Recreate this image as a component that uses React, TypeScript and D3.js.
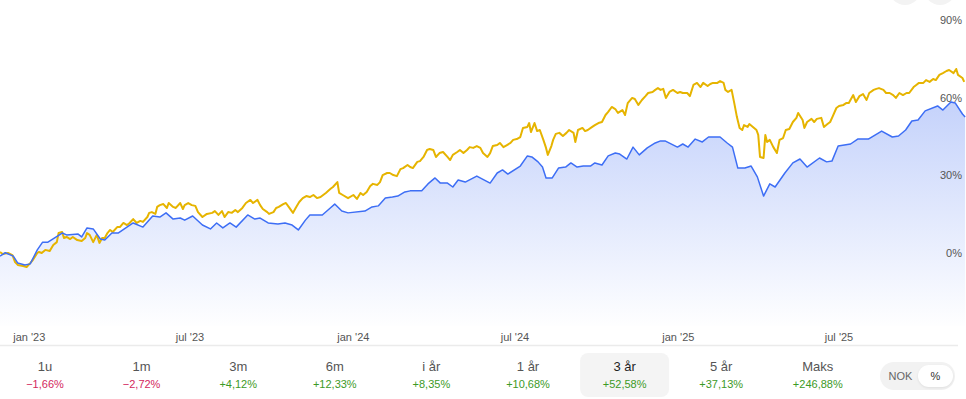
import React from 'react';
import * as d3 from 'd3';

const W = 966;
const H = 399;
const START = new Date(2022, 10, 29);
const END = new Date(2025, 10, 21);

// [days since START, return in %]
const fundSeries: [number, number][] = [
  [0,0.4],[3,-0.4],[9,0],[14,-0.8],[17,-3.5],[20,-4.6],[26,-5.0],[30,-5.4],[34,-3.9],[37,-2.7],
  [42,0],[44,0.4],[47,0],[51,1.2],[56,0.8],[60,3.1],[64,4.2],[66,7.7],[70,8.1],[72,5.8],
  [75,6.2],[79,5.4],[82,6.2],[87,5.0],[92,4.6],[96,5.8],[98,7.7],[101,7.0],[105,4.2],[109,7.0],
  [112,3.9],[115,5.8],[118,5.8],[121,7.7],[124,8.9],[127,8.1],[132,10.0],[135,10.0],[139,11.6],[143,10.8],
  [146,11.6],[150,13.1],[154,11.6],[158,12.4],[161,12.0],[166,13.9],[168,15.5],[171,15.8],[175,15.1],[177,17.8],
  [180,18.5],[184,18.9],[188,17.4],[190,19.3],[195,17.8],[198,17.4],[203,19.3],[206,17.0],[208,18.5],[212,19.3],
  [216,18.5],[220,18.2],[223,15.8],[228,13.9],[233,15.1],[239,15.5],[242,16.2],[246,14.7],[250,16.2],[253,13.9],
  [257,15.8],[261,15.5],[265,16.6],[268,15.8],[273,17.4],[277,19.3],[282,20.5],[285,19.3],[290,20.5],[293,18.5],
  [296,17.0],[301,15.8],[303,15.1],[308,15.8],[311,17.4],[314,17.8],[319,18.9],[322,19.3],[326,17.4],[330,15.5],
  [333,17.4],[337,19.7],[341,21.2],[345,22.0],[349,21.6],[353,22.4],[357,21.2],[361,21.6],[364,22.4],[367,23.2],
  [372,24.7],[375,25.5],[380,27.4],[382,23.2],[386,22.4],[392,21.2],[398,22.4],[402,20.9],[406,23.2],[409,22.4],
  [413,23.6],[417,25.9],[420,26.7],[425,26.3],[428,27.4],[431,30.1],[436,30.9],[439,30.9],[443,30.1],[447,29.7],
  [451,32.4],[454,32.8],[459,34.0],[462,33.2],[465,32.8],[470,35.2],[473,35.5],[477,37.1],[481,39.8],[484,40.2],
  [488,39.8],[491,37.1],[495,38.6],[499,39.0],[504,37.1],[507,35.9],[510,37.9],[515,39.0],[518,39.8],[522,38.6],
  [526,39.8],[529,40.9],[533,40.6],[537,41.3],[541,40.6],[544,38.6],[549,37.1],[552,38.6],[555,41.3],[560,41.7],
  [563,42.5],[567,40.9],[571,41.7],[575,42.5],[578,43.7],[582,44.0],[586,44.8],[589,48.3],[594,48.7],[596,50.2],
  [598,46.7],[602,50.2],[605,47.1],[608,47.5],[612,43.7],[615,40.6],[617,37.9],[621,41.3],[623,43.7],[626,46.0],
  [630,46.4],[634,45.2],[638,46.4],[641,47.5],[646,46.4],[648,42.9],[651,47.5],[656,48.3],[659,47.1],[662,47.5],
  [667,48.7],[670,49.4],[674,50.2],[678,50.6],[682,53.3],[685,54.5],[689,56.4],[693,55.6],[696,54.1],[701,55.2],
  [704,53.3],[707,57.9],[712,59.9],[715,59.5],[719,57.2],[723,59.1],[727,60.6],[730,61.8],[735,62.2],[738,63.0],
  [741,63.7],[744,63.0],[747,63.4],[750,59.9],[754,62.2],[758,63.0],[763,61.8],[766,62.2],[769,61.8],[774,61.8],
  [777,60.6],[781,64.9],[785,65.7],[789,64.1],[792,65.7],[797,64.5],[800,65.3],[803,65.7],[808,65.7],[811,66.4],
  [815,65.7],[817,63.0],[820,62.2],[824,63.0],[827,57.9],[830,52.5],[833,48.3],[836,47.5],[838,49.4],[842,48.7],
  [844,49.8],[848,48.7],[852,47.5],[854,45.6],[856,37.1],[860,36.7],[862,45.6],[864,42.9],[867,43.7],[871,40.9],
  [875,38.6],[878,43.7],[882,44.4],[885,47.5],[889,47.9],[893,50.6],[897,52.2],[899,54.1],[904,51.4],[906,48.3],
  [909,50.6],[914,51.8],[917,50.6],[920,51.8],[925,52.2],[928,48.7],[932,49.8],[935,50.6],[938,52.9],[942,56.0],
  [945,56.8],[950,57.2],[953,57.9],[956,57.9],[961,61.0],[964,58.3],[968,60.6],[972,61.4],[976,59.1],[979,61.8],
  [984,63.0],[987,63.4],[990,63.7],[995,63.0],[998,61.8],[1002,61.8],[1006,61.0],[1009,59.9],[1013,61.8],[1017,61.0],
  [1021,61.8],[1024,61.8],[1029,64.1],[1032,64.9],[1035,65.7],[1040,65.7],[1043,66.8],[1047,66.1],[1051,67.2],[1054,66.8],
  [1058,68.8],[1062,69.5],[1066,70.3],[1069,70.7],[1074,69.5],[1077,71.1],[1079,68.8],[1084,67.6],[1086,66.1]
];

const indexSeries: [number, number][] = [
  [0,-1.2],[6,0.1],[15,-1.2],[20,-3.9],[28,-4.6],[34,-4.2],[42,1.2],[48,4.2],[54,4.2],[70,7.7],
  [75,7.0],[88,7.3],[92,6.2],[98,9.7],[105,9.3],[113,5.4],[118,5.0],[126,7.7],[133,7.7],[150,11.6],
  [161,10.0],[172,14.3],[180,13.9],[187,15.5],[195,13.1],[203,13.5],[208,12.7],[217,14.3],[228,10.8],[237,9.3],
  [244,11.6],[251,9.7],[259,11.6],[266,10.0],[279,14.7],[287,13.1],[293,13.5],[302,11.6],[313,11.2],[321,11.6],
  [329,10.8],[336,8.9],[344,12.7],[349,14.7],[363,14.7],[372,17.4],[377,18.9],[385,16.2],[392,15.5],[411,16.2],
  [419,17.8],[426,18.2],[434,21.2],[442,21.6],[448,22.0],[456,23.6],[462,24.0],[475,24.0],[482,26.7],[490,29.0],
  [496,27.0],[504,27.0],[510,25.5],[516,28.2],[524,27.4],[537,29.7],[552,27.0],[560,30.9],[566,32.1],[572,30.5],
  [586,33.6],[594,37.5],[599,37.1],[606,35.2],[611,33.2],[615,29.0],[622,29.0],[629,32.8],[637,33.2],[643,34.8],
  [650,33.2],[657,33.6],[665,33.6],[670,34.8],[678,34.0],[685,37.5],[693,38.6],[698,38.2],[706,36.3],[713,40.9],
  [720,37.9],[729,40.6],[738,42.5],[744,43.3],[749,43.3],[763,40.9],[769,42.1],[775,40.9],[783,44.0],[791,42.9],
  [798,44.8],[811,44.8],[819,42.5],[825,40.9],[831,32.8],[839,32.8],[846,33.6],[853,29.4],[860,22.0],[867,26.7],
  [873,25.5],[884,30.9],[893,34.8],[901,36.3],[909,33.2],[923,36.7],[931,35.2],[937,35.5],[944,41.3],[958,42.1],
  [966,44.0],[978,44.0],[993,47.1],[1005,44.8],[1012,45.2],[1020,47.5],[1027,51.0],[1034,51.4],[1042,54.9],[1056,56.8],
  [1062,55.2],[1071,58.3],[1076,57.9],[1084,53.7],[1087,52.5]
];

const yTicks = [0, 30, 60, 90];
const xTickDates = ['2023-01-01', '2023-07-01', '2024-01-01', '2024-07-01', '2025-01-01', '2025-07-01'];
const monthNames = ['jan', 'feb', 'mar', 'apr', 'mai', 'jun', 'jul', 'aug', 'sep', 'okt', 'nov', 'des'];

const periods = ['1u', '1m', '3m', '6m', 'i år', '1 år', '3 år', '5 år', 'Maks'];
const periodChanges = [-1.66, -2.72, 4.12, 12.33, 8.35, 10.68, 52.58, 37.13, 246.88];
const selectedPeriod = '3 år';
const units = ['NOK', '%'];

const FONT = '"Liberation Sans", Arial, sans-serif';

function fmtChange(v: number) {
  return (v < 0 ? '\u2212' : '+') + Math.abs(v).toFixed(2).replace('.', ',') + '%';
}

export default function App() {
  const x = d3.scaleTime().domain([START, END]).range([0, W]);
  const y = d3.scaleLinear().domain([0, 90]).range([253, 20]);
  const toDate = (d: number) => d3.timeDay.offset(START, d);

  const line = d3.line<[number, number]>()
    .x(d => x(toDate(d[0])))
    .y(d => y(d[1]));
  const area = d3.area<[number, number]>()
    .x(d => x(toDate(d[0])))
    .y0(326)
    .y1(d => y(d[1]));

  const colX = (i: number) => 45 + i * 96.6;

  return (
    <div style={{ position: 'absolute', left: 0, top: 0 }}>
      <svg width={W} height={H} style={{ display: 'block', fontFamily: FONT }}>
        <defs>
          <linearGradient id="areaGrad" gradientUnits="userSpaceOnUse" x1="0" y1="95" x2="0" y2="330">
            <stop offset="0" stopColor="#c3d1fb" />
            <stop offset="1" stopColor="#ffffff" />
          </linearGradient>
        </defs>
        <rect width={W} height={H} fill="#fff" />

        <circle cx={905} cy={-11} r={16} fill="#f3f3f3" />
        <circle cx={940} cy={-11} r={16} fill="#f3f3f3" />

        <path d={area(indexSeries) || ''} fill="url(#areaGrad)" />
        <path d={line(fundSeries) || ''} fill="none" stroke="#e6b400" strokeWidth={2} strokeLinejoin="round" />
        <path d={line(indexSeries) || ''} fill="none" stroke="#3d6ef5" strokeWidth={1.5} strokeLinejoin="round" />

        {yTicks.map(t => (
          <text key={t} x={962} y={y(t)} textAnchor="end" dominantBaseline="central" fontSize={11} fill="#555">
            {t}%
          </text>
        ))}

        {xTickDates.map(s => {
          const d = new Date(s + 'T00:00:00');
          return (
            <text key={s} x={x(d)} y={337} textAnchor="middle" dominantBaseline="central" fontSize={11} fill="#555">
              {monthNames[d.getMonth()]} '{String(d.getFullYear()).slice(2)}
            </text>
          );
        })}

        <line x1={0} x2={958} y1={345.5} y2={345.5} stroke="#ebebeb" strokeWidth={1.5} />

        {periods.map((p, i) => {
          const sel = p === selectedPeriod;
          const v = periodChanges[i];
          return (
            <g key={p}>
              {sel && <rect x={colX(i) - 44.5} y={353} width={89} height={44} rx={8} fill="#f4f4f4" />}
              <text x={colX(i)} y={366} textAnchor="middle" dominantBaseline="central" fontSize={13} fill={sel ? '#1f1f1f' : '#555'}>
                {p}
              </text>
              <text x={colX(i)} y={384} textAnchor="middle" dominantBaseline="central" fontSize={11} fill={v < 0 ? '#d3285d' : '#3c9a26'}>
                {fmtChange(v)}
              </text>
            </g>
          );
        })}

        <rect x={880} y={362} width={75} height={28} rx={14} fill="#f2f2f2" />
        <rect x={918} y={365} width={35} height={22} rx={11} fill="#fff" style={{ filter: 'drop-shadow(0 1px 1px rgba(0,0,0,0.08))' }} />
        <text x={900.5} y={376} textAnchor="middle" dominantBaseline="central" fontSize={11} fill="#666">{units[0]}</text>
        <text x={935.5} y={376} textAnchor="middle" dominantBaseline="central" fontSize={11} fill="#333">{units[1]}</text>
      </svg>
    </div>
  );
}
